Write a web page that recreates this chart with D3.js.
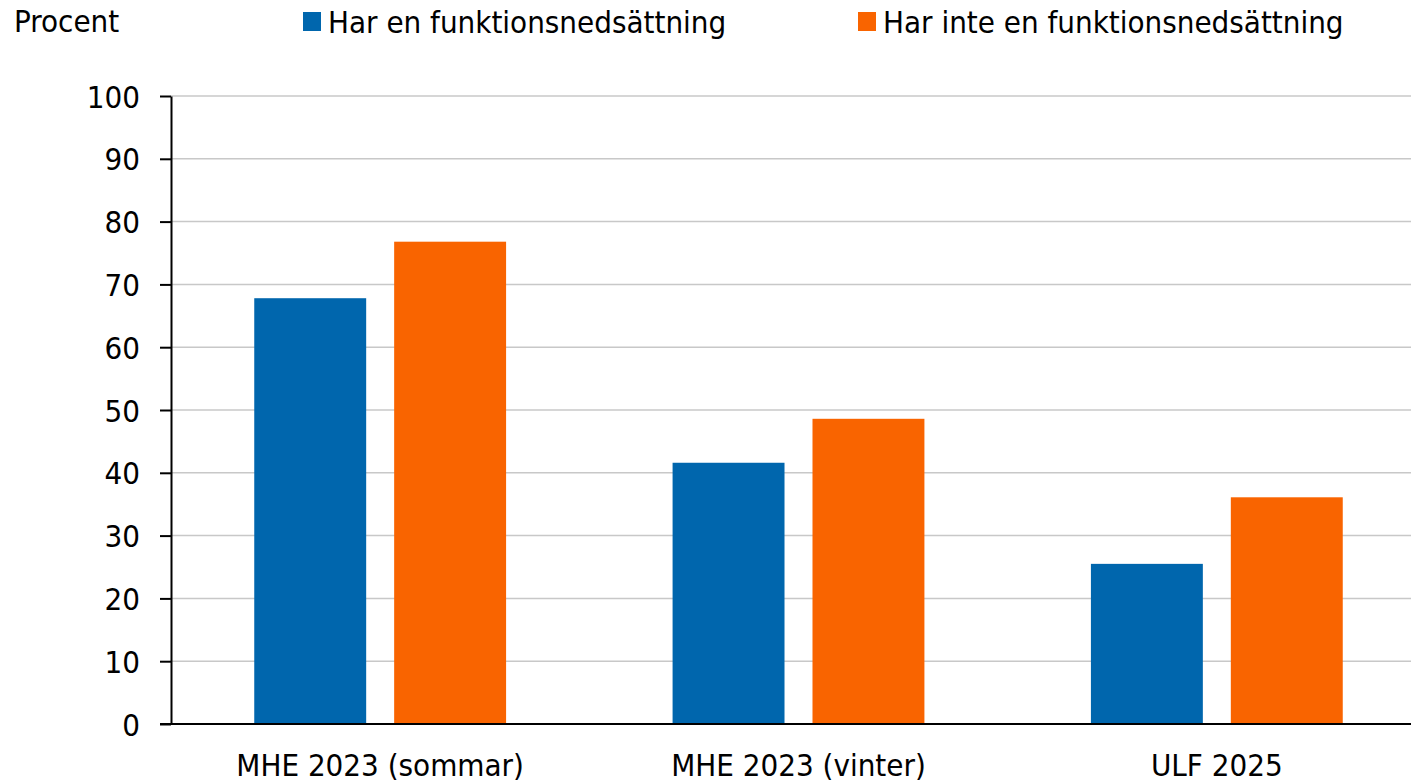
<!DOCTYPE html>
<html>
<head>
	<title>Procent</title>
	<meta charset="utf-8">
	<script src="https://cdnjs.cloudflare.com/ajax/libs/d3/7.8.5/d3.min.js"></script>
	<style type="text/css">
		body { margin: 0; background: #fff; }
		svg text { font-family: "DejaVu Sans Condensed", "DejaVu Sans", sans-serif; font-size: 31px; fill: #000; }
	</style>
</head>
<body>
	<script type="text/javascript">

		const categories = ['MHE 2023 (sommar)', 'MHE 2023 (vinter)', 'ULF 2025'];
		const seriesNames = ['Har en funktionsnedsättning', 'Har inte en funktionsnedsättning'];
		const withDisability = [67.8, 41.6, 25.5];
		const withoutDisability = [76.8, 48.6, 36.1];
		const yTicks = [0, 10, 20, 30, 40, 50, 60, 70, 80, 90, 100];
		const colors = ['#0066ad', '#f96400'];

		const width = 1411, height = 784;
		const mLeft = 171, mRight = 1426, mTop = 96, mBottom = 724;

		let svg = d3.select('body').append('svg')
			.attr('width', width)
			.attr('height', height);

		let yScale = d3.scaleLinear().domain([0, 100]).range([mBottom, mTop]);
		let x0 = d3.scaleBand().domain(categories).range([mLeft, mRight]).padding(0);
		let groupW = x0.bandwidth() * 0.602;
		let off = (x0.bandwidth() - groupW) / 2;
		let x1 = d3.scaleBand().domain(seriesNames).range([off, off + groupW]).paddingInner(0.2).paddingOuter(0);

		// grid
		svg.append('g').selectAll('line').data(yTicks.filter(d => d > 0)).enter().append('line')
			.attr('x1', mLeft).attr('x2', width)
			.attr('y1', d => yScale(d)).attr('y2', d => yScale(d))
			.attr('stroke', '#c8c8c8').attr('stroke-width', 1.5);

		let rows = categories.map((c, i) => ({cat: c, vals: [withDisability[i], withoutDisability[i]]}));

		let groups = svg.append('g').selectAll('g').data(rows).enter().append('g')
			.attr('transform', d => `translate(${x0(d.cat)},0)`);
		groups.selectAll('rect').data(d => d.vals.map((v, j) => ({s: seriesNames[j], v: v, j: j}))).enter().append('rect')
			.attr('x', d => x1(d.s))
			.attr('width', x1.bandwidth())
			.attr('y', d => yScale(d.v))
			.attr('height', d => mBottom - yScale(d.v))
			.attr('fill', d => colors[d.j]);

		// y axis
		let yAxis = d3.axisLeft(yScale).tickValues(yTicks).tickSize(11).tickPadding(20).tickSizeOuter(0);
		let ya = svg.append('g').attr('transform', `translate(${mLeft},0)`).call(yAxis);
		ya.select('.domain').attr('stroke', '#000').attr('stroke-width', 2);
		ya.selectAll('.tick line').attr('stroke', '#000').attr('stroke-width', 2);
		ya.attr('font-family', null).attr('font-size', null);
		ya.selectAll('text').attr('dy', '0.36em');

		// x axis baseline
		svg.append('line').attr('x1', mLeft - 11).attr('x2', width)
			.attr('y1', mBottom).attr('y2', mBottom)
			.attr('stroke', '#000').attr('stroke-width', 2);

		svg.append('g').selectAll('text').data(categories).enter().append('text')
			.attr('x', d => x0(d) + x0.bandwidth() / 2)
			.attr('y', 776)
			.attr('text-anchor', 'middle')
			.text(d => d);

		// title + legend
		svg.append('text').attr('x', 14).attr('y', 32).text('Procent');

		let legendX = [303, 858];
		let lg = svg.append('g').selectAll('g').data(seriesNames).enter().append('g')
			.attr('transform', (d, i) => `translate(${legendX[i]},0)`);
		lg.append('rect').attr('x', 0).attr('y', 12).attr('width', 18).attr('height', 19)
			.attr('fill', (d, i) => colors[i]);
		lg.append('text').attr('x', 25).attr('y', 33).text(d => d);
	</script>
</body>
</html>
